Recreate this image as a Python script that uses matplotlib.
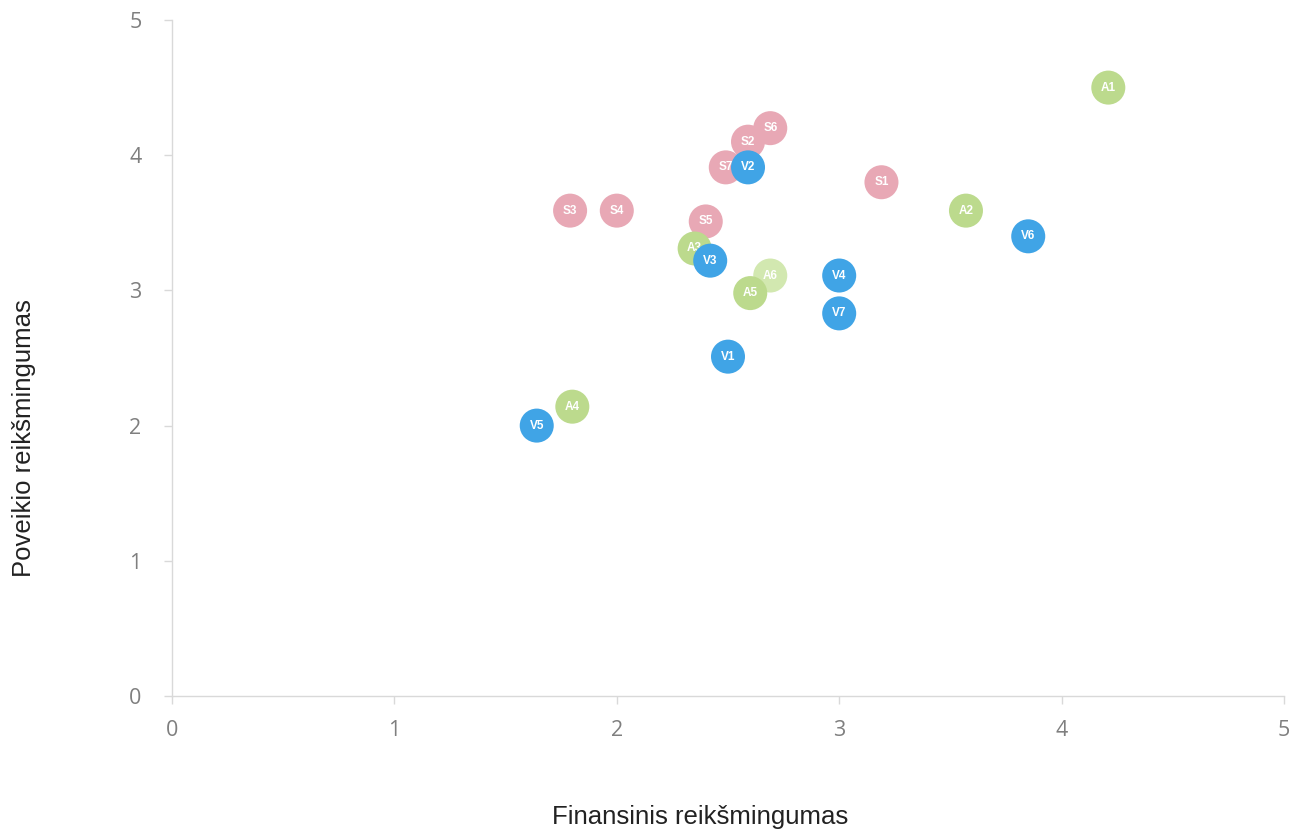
import matplotlib
matplotlib.use("Agg")
import matplotlib.pyplot as plt

# Data
s_labels = ["S1", "S2", "S3", "S4", "S5", "S6", "S7"]
s_x = [3.19, 2.59, 1.79, 2.00, 2.40, 2.69, 2.49]
s_y = [3.80, 4.10, 3.59, 3.59, 3.51, 4.20, 3.91]

a_labels = ["A1", "A2", "A3", "A4", "A5", "A6"]
a_x = [4.21, 3.57, 2.35, 1.80, 2.60, 2.69]
a_y = [4.50, 3.59, 3.31, 2.14, 2.98, 3.11]

v_labels = ["V1", "V2", "V3", "V4", "V5", "V6", "V7"]
v_x = [2.50, 2.59, 2.42, 3.00, 1.64, 3.85, 3.00]
v_y = [2.51, 3.91, 3.22, 3.11, 2.00, 3.40, 2.83]

x_label = "Finansinis reikšmingumas"
y_label = "Poveikio reikšmingumas"
ticks = [0, 1, 2, 3, 4, 5]

fig = plt.figure(figsize=(12.92, 8.30), dpi=100)
ax = fig.add_axes([172/1292, 1-696/830, (1284-172)/1292, (696-20)/830])

pink = "#E8A8B5"
green = "#BCDA8D"
green_light = "#D2E8B0"
blue = "#40A4E6"

def draw(xs, ys, labels, color, z):
    for x, y, lab in zip(xs, ys, labels):
        ax.scatter([x], [y], s=600, color=color, edgecolors="none", zorder=z)
        ax.text(x, y, lab, color="white", fontsize=8.5, fontweight="bold",
                ha="center", va="center", family="Liberation Sans", zorder=z + 0.5)

# order: A6 behind A5
draw([a_x[5]], [a_y[5]], [a_labels[5]], green_light, 2)
draw(s_x, s_y, s_labels, pink, 3)
draw(a_x[:5], a_y[:5], a_labels[:5], green, 4)
draw(v_x, v_y, v_labels, blue, 5)

ax.set_xlim(0, 5)
ax.set_ylim(0, 5)
ax.set_xticks(ticks)
ax.set_yticks(ticks)
ax.set_xticklabels([str(t) for t in ticks])
ax.set_yticklabels([str(t) for t in ticks])

for side in ["top", "right"]:
    ax.spines[side].set_visible(False)
for side in ["left", "bottom"]:
    ax.spines[side].set_color("#D9D9D9")
    ax.spines[side].set_linewidth(1.0)

ax.tick_params(axis="both", direction="out", length=6, width=1, color="#D9D9D9",
               labelcolor="#7F7F7F", labelsize=15.5)
ax.tick_params(axis="x", pad=11)
ax.tick_params(axis="y", pad=16)
for lab in ax.get_xticklabels() + ax.get_yticklabels():
    lab.set_family("Open Sans")

fig.text(700/1292, 1-817/830, x_label, ha="center", va="center",
         fontsize=18.5, family="Liberation Sans", color="#222222")
fig.text(24/1292, 1-438/830, y_label, ha="center", va="center", rotation=90,
         fontsize=18.5, family="Liberation Sans", color="#222222")

fig.savefig("out.png", dpi=100)
